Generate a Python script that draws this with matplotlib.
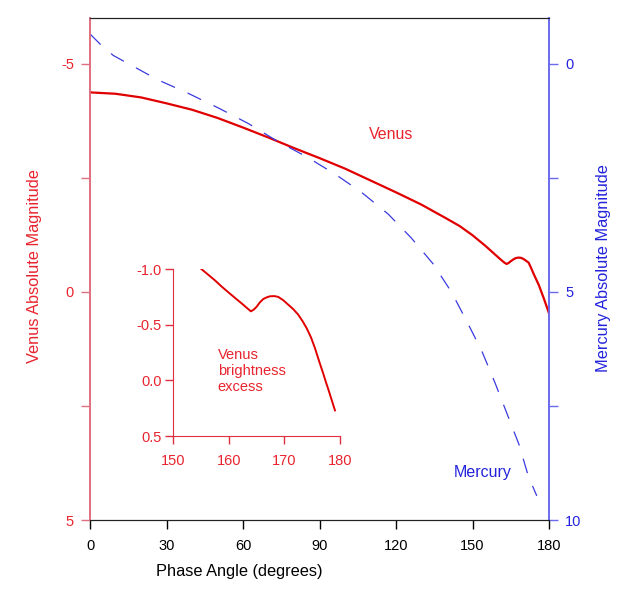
import numpy as np
import matplotlib
matplotlib.use("Agg")
import matplotlib.pyplot as plt

plt.rcParams['font.family'] = ['Liberation Sans', 'DejaVu Sans']
plt.rcParams['axes.unicode_minus'] = False

# ---------------- data ----------------
venus_angle = [0, 10, 20, 30, 40, 50, 60, 70, 80, 90, 100, 110, 120, 130, 140,
               145, 150, 155, 157, 159, 161, 162.5, 163.4, 164.2, 165, 166,
               167, 168, 169, 170, 171, 172, 173, 174, 175, 176, 177, 178,
               179, 180]
venus_mag = [-4.37, -4.34, -4.26, -4.13, -3.99, -3.81, -3.60, -3.38, -3.15,
             -2.93, -2.70, -2.44, -2.18, -1.91, -1.60, -1.44, -1.24, -1.01,
             -0.91, -0.81, -0.71, -0.64, -0.61, -0.635, -0.67, -0.71, -0.74,
             -0.75, -0.745, -0.72, -0.68, -0.64, -0.52, -0.39, -0.27, -0.15,
             0.0, 0.15, 0.31, 0.47]

mercury_angle = [0, 4.3, 9.1, 15, 26.8, 38.5, 50.3, 62, 73.2, 84.9, 96.1,
                 106.5, 117, 126, 134.6, 141.8, 147.7, 153.6, 158.8, 163.4,
                 168.2, 171.9, 175.2]
mercury_mag = [-0.65, -0.41, -0.18, 0.0, 0.36, 0.65, 0.97, 1.31, 1.69, 2.04,
               2.42, 2.82, 3.30, 3.82, 4.39, 5.01, 5.64, 6.29, 6.99, 7.65,
               8.34, 9.04, 9.47]

excess_angle = [155.1, 156.3, 157.5, 158.8, 160.2, 161.4, 162.6, 163.4, 164.0,
                164.5, 165.0, 165.6, 166.2, 166.8, 167.4, 168.2, 168.9, 169.8,
                170.7, 171.6, 172.5, 173.3, 174.0, 174.8, 175.5, 176.3, 177.0,
                177.5, 177.9, 178.5, 179.1]
excess_mag = [-1.0, -0.95, -0.90, -0.84, -0.78, -0.73, -0.68, -0.645, -0.62,
              -0.635, -0.66, -0.70, -0.73, -0.745, -0.755, -0.757, -0.75,
              -0.72, -0.68, -0.64, -0.59, -0.53, -0.47, -0.385, -0.29, -0.165,
              -0.06, 0.02, 0.08, 0.175, 0.27]

x_ticks = [0, 30, 60, 90, 120, 150, 180]
venus_ticks = [-5, 0, 5]
mercury_ticks = [0, 5, 10]
inset_xticks = [150, 160, 170, 180]
inset_yticks = [-1.0, -0.5, 0.0, 0.5]
inset_ylabels = ['-1.0', '-0.5', '0.0', '0.5']

# colours
red_txt = '#e8242e'
red_line = '#e00000'
red_spine = '#e07080'
blue_txt = '#2323dc'
blue_line = '#3a3ae0'
blue_spine = '#6a6af0'

fig = plt.figure(figsize=(6.33, 6.0), dpi=100)
ax = fig.add_axes([0.1422, 0.1333, 0.7251, 0.8367])
ax2 = ax.twinx()

# Venus curve
ax.plot(venus_angle, venus_mag, color=red_line, lw=1.6, zorder=3)
ax.set_xlim(0, 180)
ax.set_ylim(5, -6)
ax.set_xticks(x_ticks)
ax.set_yticks(venus_ticks)
ax.set_yticks([-2.5, 2.5], minor=True)
ax.tick_params(axis='x', direction='out', length=6.5, width=1, pad=7,
               labelsize=10.5, colors='black')
ax.tick_params(axis='y', which='both', direction='out', length=6.5, width=1,
               pad=5, labelsize=10.5, colors=red_txt)
ax.tick_params(axis='y', which='both', color=red_spine)

# Mercury curve
ax2.plot(mercury_angle, mercury_mag, color=blue_line, lw=0.9,
         dashes=(12, 11))
ax2.set_ylim(10, -1)
ax2.set_yticks(mercury_ticks)
ax2.set_yticks([2.5, 7.5], minor=True)
ax2.tick_params(axis='y', which='both', direction='out', length=6.5, width=1,
                pad=5, labelsize=10.5, colors=blue_txt)
ax2.tick_params(axis='y', which='both', color=blue_spine)

for a in (ax, ax2):
    a.spines['left'].set_color(red_spine)
    a.spines['right'].set_color(blue_spine)
    a.spines['top'].set_color('#222222')
    a.spines['bottom'].set_color('#222222')
    a.spines['left'].set_linewidth(1.2)
    a.spines['right'].set_linewidth(1.2)

ax.text(0.656, 0.768, 'Venus', transform=ax.transAxes, color=red_txt,
        fontsize=11.5, ha='center', va='center')
ax.text(0.856, 0.094, 'Mercury', transform=ax.transAxes, color=blue_txt,
        fontsize=11.5, ha='center', va='center')

fig.text(0.378, 0.048, 'Phase Angle (degrees)', fontsize=11.8,
         ha='center', va='center', color='black')
fig.text(0.054, 0.557, 'Venus Absolute Magnitude', fontsize=11.8,
         ha='center', va='center', rotation=90, color=red_txt)
fig.text(0.953, 0.553, 'Mercury Absolute Magnitude', fontsize=11.8,
         ha='center', va='center', rotation=90, color=blue_txt)

# inset: brightness excess
axi = fig.add_axes([0.2733, 0.2733, 0.2638, 0.2783])
axi.plot(excess_angle, excess_mag, color=red_line, lw=1.4)
axi.set_xlim(150, 180)
axi.set_ylim(0.5, -1.0)
axi.set_xticks(inset_xticks)
axi.set_yticks(inset_yticks)
axi.set_yticklabels(inset_ylabels)
axi.tick_params(direction='out', length=6, width=1, labelsize=10.5,
                colors=red_txt)
axi.tick_params(axis='y', pad=2)
axi.tick_params(axis='x', pad=7)
axi.tick_params(color='#e03040')
axi.spines['top'].set_visible(False)
axi.spines['right'].set_visible(False)
axi.spines['left'].set_color('#e03040')
axi.spines['bottom'].set_color('#e03040')
axi.patch.set_alpha(0)
axi.text(0.268, 0.39, 'Venus\nbrightness\nexcess', transform=axi.transAxes,
         color=red_txt, fontsize=10.5, ha='left', va='center',
         linespacing=1.15)

fig.savefig('out.png', dpi=100)
